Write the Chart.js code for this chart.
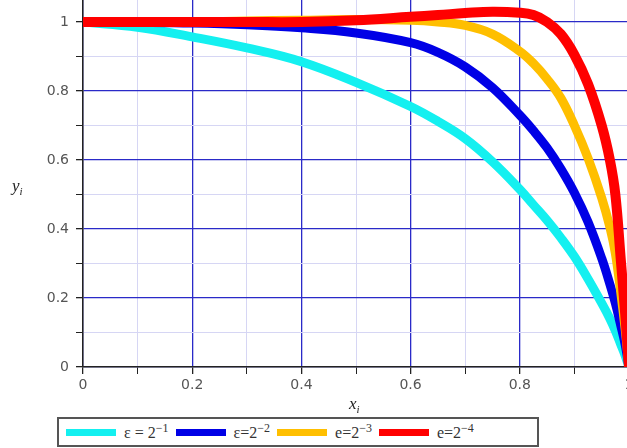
<!DOCTYPE html>
<html>
<head>
<meta charset="utf-8">
<script src="https://cdn.jsdelivr.net/npm/chart.js@4.4.1/dist/chart.umd.min.js"></script>
<style>
  body { margin: 0; overflow: hidden; background: #fff; }
  #wrap { position: relative; width: 627px; height: 448px; overflow: hidden; }
  #plot { position: absolute; left: 0; top: 0; width: 629px; height: 395px; }
  .ttl { position: absolute; font-family: 'Liberation Serif', serif; font-style: italic; font-size: 17px; color: #222; }
  .ttl sub { font-size: 11px; }
  #legend {
    position: absolute; left: 57px; top: 417px; width: 478px; height: 26px;
    border: 2px solid #555; display: flex; align-items: center;
    font-family: 'Liberation Serif', serif; font-size: 16px; color: #333;
  }
  #legend .sw { display: inline-block; width: 50px; height: 7px; margin-left: 7px; margin-right: 8px; }
  #legend sup { font-size: 12px; }
</style>
</head>
<body>
<div id="wrap">
  <div id="plot"><canvas id="chartCurves"></canvas></div>
  <div class="ttl" style="left:12px; top:176px;">y<sub>i</sub></div>
  <div class="ttl" style="left:349px; top:394px;">x<sub>i</sub></div>
  <div id="legend"></div>
</div>
<script>
'use strict';

// sample points along x_i
var xs = [0, 0.1, 0.2, 0.3, 0.4, 0.5, 0.6, 0.65, 0.7, 0.75, 0.8, 0.825, 0.85, 0.875, 0.9, 0.925, 0.95, 0.965, 0.975, 0.985, 0.993, 1];

// y_i, one list per epsilon
var yEps1 = [1, 0.985, 0.957, 0.925, 0.885, 0.825, 0.755, 0.712, 0.662, 0.595, 0.515, 0.47, 0.425, 0.375, 0.32, 0.255, 0.185, 0.14, 0.105, 0.065, 0.033, 0];
var yEps2 = [1, 0.999, 0.997, 0.992, 0.983, 0.968, 0.94, 0.912, 0.87, 0.81, 0.73, 0.685, 0.635, 0.575, 0.505, 0.42, 0.315, 0.24, 0.185, 0.12, 0.065, 0];
var yEps3 = [1, 1, 1, 1.003, 1.005, 1.007, 1.005, 1.0, 0.99, 0.965, 0.915, 0.88, 0.835, 0.78, 0.70, 0.605, 0.49, 0.405, 0.33, 0.215, 0.11, 0];
var yEps4 = [1, 1, 1, 1, 1, 1.005, 1.015, 1.02, 1.026, 1.03, 1.027, 1.02, 1.0, 0.965, 0.905, 0.82, 0.7, 0.6, 0.5, 0.31, 0.155, 0];

var seriesNames = ['\u03b5 = 2<sup>\u22121</sup>', '\u03b5=2<sup>\u22122</sup>', 'e=2<sup>\u22123</sup>', 'e=2<sup>\u22124</sup>'];

// ticks every 0.1, labels only on the 0.2 steps
var tickValues = [0, 0.1, 0.2, 0.3, 0.4, 0.5, 0.6, 0.7, 0.8, 0.9, 1];
var tickLabels = ['0', '', '0.2', '', '0.4', '', '0.6', '', '0.8', '', '1'];

var colors = {
  cyan   : '#14f0f0',
  blue   : '#0000e6',
  orange : '#ffbf00',
  red    : '#ff0000',
  major  : '#2a2ac8',
  minor  : '#d6d6f4',
  axis   : '#222',
  text   : '#555'
};

var fontFamily = "'DejaVu Sans', Verdana, sans-serif";

function pts(ys) {
  return xs.map(function(x, i) { return { x: x, y: ys[i] }; });
}

function isMajor(v) {
  return Math.abs(v * 5 - Math.round(v * 5)) < 1e-6;
}

function gridOpts() {
  return {
    color: function(ctx) { return isMajor(ctx.tick.value) ? colors.major : colors.minor; },
    lineWidth: function(ctx) { return isMajor(ctx.tick.value) ? 1.3 : 1; },
    tickColor: colors.axis,
    tickLength: 7,
    drawOnChartArea: true
  };
}

var lineColors = [colors.cyan, colors.blue, colors.orange, colors.red];
var lineWidths = [9, 9, 9, 10];
var allY = [yEps1, yEps2, yEps3, yEps4];

new Chart(document.getElementById('chartCurves'), {
  type: 'line',
  data: {
    datasets: allY.map(function(ys, i) {
      return {
        label: 'eps' + (i + 1),
        data: pts(ys),
        borderColor: lineColors[i],
        borderWidth: lineWidths[i],
        pointRadius: 0,
        tension: 0.4,
        fill: false,
        order: 4 - i
      };
    })
  },
  options: {
    responsive: true,
    maintainAspectRatio: false,
    animation: false,
    layout: { padding: 0 },
    plugins: {
      legend: { display: false },
      tooltip: { enabled: false }
    },
    scales: {
      x: {
        type: 'linear',
        min: 0,
        max: 1,
        afterBuildTicks: function(s) { s.ticks = tickValues.map(function(v) { return { value: v }; }); },
        afterFit: function(s) { s.height = 28; s.paddingLeft = 0; s.paddingRight = 0; },
        grid: gridOpts(),
        border: { color: colors.axis, width: 1.5 },
        ticks: {
          autoSkip: false,
          maxRotation: 0,
          padding: 3,
          color: colors.text,
          font: { family: fontFamily, size: 14 },
          callback: function(v, i) { return tickLabels[i]; }
        }
      },
      y: {
        type: 'linear',
        min: 0,
        max: 367 / 345,
        afterBuildTicks: function(s) { s.ticks = tickValues.map(function(v) { return { value: v }; }); },
        afterFit: function(s) { s.width = 83; s.paddingTop = 0; s.paddingBottom = 0; },
        grid: gridOpts(),
        border: { color: colors.axis, width: 1.5 },
        ticks: {
          autoSkip: false,
          padding: 7,
          color: colors.text,
          font: { family: fontFamily, size: 14 },
          callback: function(v, i) { return tickLabels[i]; }
        }
      }
    }
  }
});

// legend box drawn as html so the exponents stay superscripts
var legend = document.getElementById('legend');
seriesNames.forEach(function(name, i) {
  var sw = document.createElement('span');
  sw.className = 'sw';
  sw.style.background = lineColors[i];
  var tx = document.createElement('span');
  tx.innerHTML = name;
  legend.appendChild(sw);
  legend.appendChild(tx);
});
</script>
</body>
</html>
